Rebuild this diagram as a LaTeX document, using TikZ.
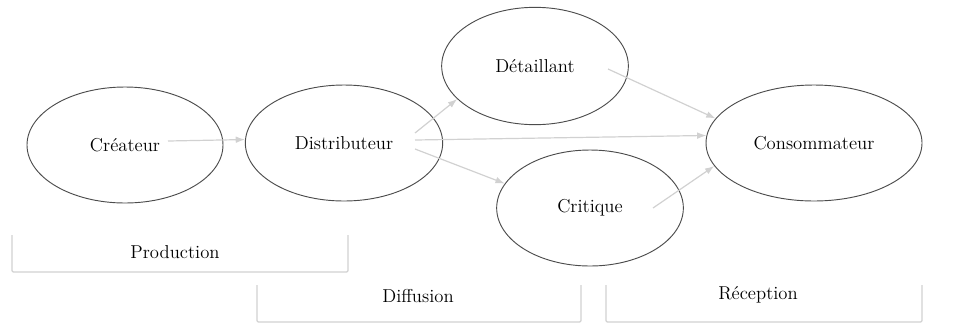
\documentclass[tikz,border=0pt]{standalone}
\usetikzlibrary{arrows.meta,calc,shapes.geometric}

\begin{document}
\begin{tikzpicture}[
		x=0.75pt, y=-0.75pt,
		every node/.style={font=\fontsize{14}{16}\selectfont},
		actor/.style={draw, ellipse, line width=0.7pt, draw=black!70, inner sep=0pt},
		flow/.style={-{Latex[length=7pt,width=5pt]}, draw=black!18, line width=0.9pt},
		bracket/.style={draw=black!18, line width=0.9pt, rounded corners=1pt}
		]
		\useasboundingbox (0,0) rectangle (955,326);
		
		% Nodes
		\node[actor, minimum width=147pt, minimum height=87pt] (crea) at (125,145) {Créateur};
		\node[actor, minimum width=148pt, minimum height=87pt] (dist) at (344,143) {Distributeur};
		\node[actor, minimum width=140pt, minimum height=88pt] (det) at (535,66) {Détaillant};
		\node[actor, minimum width=140pt, minimum height=87pt] (crit) at (590,208) {Critique};
		\node[actor, minimum width=162pt, minimum height=87pt] (cons) at (814,143) {Consommateur};
		
		% Arrows
		\draw[flow] ($(crea.center)+(43,-4)$) -- (dist.178);
		\draw[flow] ($(dist.center)+(71,-10)$) -- (det.203);
		\draw[flow] ($(dist.center)+(71,-3)$) -- (cons.176);
		\draw[flow] ($(dist.center)+(71,6)$) -- (crit.164);
		\draw[flow] ($(det.center)+(73,3)$) -- (cons.166);
		\draw[flow] ($(crit.center)+(63,0)$) -- (cons.193);
		
		% Stages
		\draw[bracket] (12,235) -- (12,272) -- (348,272) -- (348,235);
		\draw[bracket] (257,285) -- (257,322) -- (581,322) -- (581,285);
		\draw[bracket] (606,285) -- (606,322) -- (922,322) -- (922,285);
		\node (prod) at (175,252) {Production};
		\node (diff) at (418,296) {Diffusion};
		\node (rece) at (758,295) {Réception};
		
	\end{tikzpicture}
\end{document}
